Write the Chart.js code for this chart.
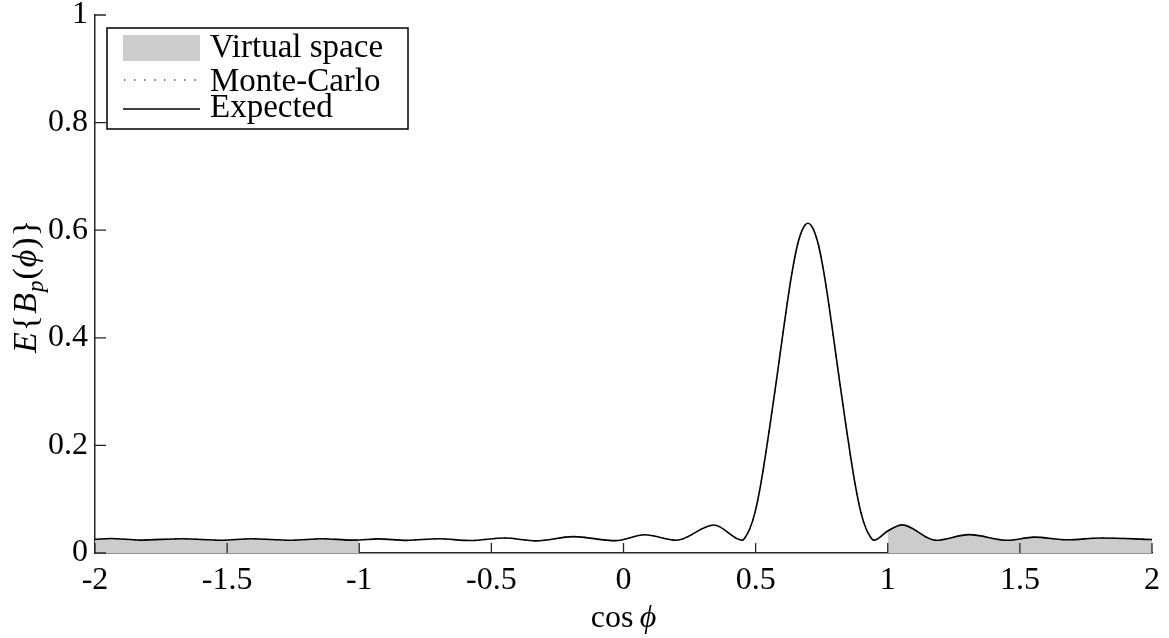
<!DOCTYPE html>
<html><head><meta charset="utf-8">
<script src="https://cdn.jsdelivr.net/npm/chart.js@4"></script>
<style>html,body{margin:0;padding:0;background:#fff;}</style>
</head><body>
<canvas id="c" width="1169" height="638"></canvas>
<script>
const xValues = [-2.00,-1.94,-1.83,-1.67,-1.52,-1.41,-1.26,-1.14,-1.03,-1.00,-0.93,-0.82,-0.70,-0.58,-0.45,-0.33,-0.19,-0.03,0.08,0.20,0.342,0.45,0.463,0.478,0.498,0.518,0.538,0.558,0.578,0.598,0.618,0.638,0.658,0.678,0.698,0.718,0.738,0.758,0.778,0.798,0.818,0.838,0.858,0.878,0.898,0.918,0.933,0.948,1.00,1.055,1.182,1.308,1.453,1.554,1.68,1.807,2.00];
const expectedValues = [0.0252,0.0270,0.0240,0.0265,0.0238,0.0265,0.0238,0.0265,0.0240,0.0243,0.0262,0.0235,0.0265,0.0233,0.0278,0.0226,0.0305,0.0230,0.0340,0.0236,0.0520,0.0236,0.031,0.045,0.076,0.124,0.184,0.250,0.318,0.389,0.459,0.522,0.572,0.602,0.613,0.602,0.572,0.522,0.459,0.389,0.318,0.250,0.184,0.124,0.076,0.045,0.031,0.0236,0.041,0.0522,0.0236,0.0342,0.0236,0.0295,0.0245,0.0280,0.0252];
const monteCarloValues = expectedValues.slice();
const virtualRanges = [[-2, -1], [1, 2]];
const xTickValues = [-2,-1.5,-1,-0.5,0,0.5,1,1.5,2];
const xTickLabels = ['-2','-1.5','-1','-0.5','0','0.5','1','1.5','2'];
const yTickValues = [0,0.2,0.4,0.6,0.8,1];
const yTickLabels = ['0','0.2','0.4','0.6','0.8','1'];
const seriesLabels = ['Virtual space','Monte-Carlo','Expected'];

const FONT = "'Liberation Serif','DejaVu Serif',serif";
const pts = (vals) => xValues.map((x,i)=>({x, y: vals[i]}));
const fillSets = virtualRanges.map(([a,b]) => ({
  label: seriesLabels[0],
  data: pts(expectedValues).filter(p => p.x >= a && p.x <= b),
  borderWidth: 0, borderColor: 'rgba(0,0,0,0)', backgroundColor: '#cccccc',
  fill: 'origin', pointRadius: 0, tension: 0.4, cubicInterpolationMode: 'monotone', order: 3
}));

const decor = {
  id: 'decor',
  afterDraw(chart) {
    const {ctx, chartArea: a, scales: {x, y}} = chart;
    ctx.save();
    ctx.strokeStyle = '#262626'; ctx.lineWidth = 1.3;
    ctx.beginPath();
    x.ticks.forEach(t => { const px = x.getPixelForValue(t.value); ctx.moveTo(px, a.bottom); ctx.lineTo(px, a.bottom - 10); });
    y.ticks.forEach(t => { const py = y.getPixelForValue(t.value); ctx.moveTo(a.left, py); ctx.lineTo(a.left + 11, py); });
    ctx.stroke();

    const ds = chart.data.datasets;
    const vs = ds.find(d => d.label === seriesLabels[0]);
    const mc = ds.find(d => d.label === seriesLabels[1]);
    const ex = ds.find(d => d.label === seriesLabels[2]);
    const bx = a.left + 12, by = a.top + 13, bw = 301, bh = 101;
    ctx.fillStyle = '#fff'; ctx.fillRect(bx, by, bw, bh);
    ctx.strokeStyle = '#000'; ctx.lineWidth = 1.5; ctx.strokeRect(bx, by, bw, bh);
    ctx.fillStyle = vs.backgroundColor; ctx.fillRect(bx + 16, by + 7, 77, 26);
    ctx.strokeStyle = mc.borderColor; ctx.lineWidth = mc.borderWidth; ctx.setLineDash(mc.borderDash);
    ctx.beginPath(); ctx.moveTo(bx + 17, by + 52); ctx.lineTo(bx + 92, by + 52); ctx.stroke();
    ctx.setLineDash([]);
    ctx.strokeStyle = ex.borderColor; ctx.lineWidth = ex.borderWidth;
    ctx.beginPath(); ctx.moveTo(bx + 16, by + 81); ctx.lineTo(bx + 93, by + 81); ctx.stroke();
    ctx.fillStyle = '#000'; ctx.font = '33px ' + FONT; ctx.textBaseline = 'alphabetic'; ctx.textAlign = 'left';
    ctx.fillText(seriesLabels[0], bx + 103, by + 29);
    ctx.fillText(seriesLabels[1], bx + 103, by + 63);
    ctx.fillText(seriesLabels[2], bx + 103, by + 89);

    const cx = (a.left + a.right) / 2;
    ctx.font = '32px ' + FONT;
    const w1 = ctx.measureText('cos\u2009').width;
    ctx.font = 'italic 32px ' + FONT;
    const w2 = ctx.measureText('\u03D5').width;
    let sx = cx - (w1 + w2) / 2;
    ctx.font = '32px ' + FONT; ctx.fillText('cos\u2009', sx, 627);
    ctx.font = 'italic 32px ' + FONT; ctx.fillText('\u03D5', sx + w1, 627);

    const parts = [['E','italic',34,0],['{','',34,0],['B','italic',34,0],['p','italic',23,7],['(','',34,0],['\u03D5','italic',34,0],[')','',34,0],['}','',34,0]];
    let tot = 0;
    parts.forEach(p => { ctx.font = p[1] + ' ' + p[2] + 'px ' + FONT; p.push(ctx.measureText(p[0]).width + 1); tot += p[4]; });
    ctx.translate(25, (a.top + a.bottom) / 2 + 2);
    ctx.rotate(-Math.PI / 2);
    let px = -tot / 2;
    parts.forEach(p => { ctx.font = p[1] + ' ' + p[2] + 'px ' + FONT; ctx.fillText(p[0], px, 11 + p[3]); px += p[4]; });
    ctx.restore();
  }
};

new Chart(document.getElementById('c'), {
  type: 'line',
  data: {
    datasets: [
      { label: seriesLabels[2], data: pts(expectedValues), borderColor: '#000', borderWidth: 1.6, pointRadius: 0, fill: false, tension: 0.4, cubicInterpolationMode: 'monotone', order: 1 },
      { label: seriesLabels[1], data: pts(monteCarloValues), borderColor: '#000', borderWidth: 1.2, borderDash: [1.5, 8.5], pointRadius: 0, fill: false, tension: 0.4, cubicInterpolationMode: 'monotone', order: 2 },
      ...fillSets
    ]
  },
  options: {
    responsive: false, animation: false,
    layout: { padding: { left: 0, right: 17, top: 15, bottom: 0 } },
    plugins: { legend: { display: false }, tooltip: { enabled: false } },
    scales: {
      x: {
        type: 'linear', min: -2, max: 2,
        afterBuildTicks: s => { s.ticks = xTickValues.map(v => ({value: v})); },
        afterFit: s => { s.height = 85; s.paddingLeft = 0; s.paddingRight = 0; },
        ticks: { callback: (v, i) => xTickLabels[i], font: { family: FONT, size: 32 }, color: '#000', padding: 8, maxRotation: 0, autoSkip: false },
        grid: { display: true, drawOnChartArea: false, drawTicks: false },
        border: { display: true, color: '#262626', width: 1.5 }
      },
      y: {
        min: 0, max: 1,
        afterBuildTicks: s => { s.ticks = yTickValues.map(v => ({value: v})); },
        afterFit: s => { s.width = 95; s.paddingTop = 0; s.paddingBottom = 0; },
        ticks: { callback: (v, i) => yTickLabels[i], font: { family: FONT, size: 32 }, color: '#000', padding: 7, autoSkip: false },
        grid: { display: true, drawOnChartArea: false, drawTicks: false },
        border: { display: true, color: '#262626', width: 1.5 }
      }
    }
  },
  plugins: [decor]
});
</script>
</body></html>
